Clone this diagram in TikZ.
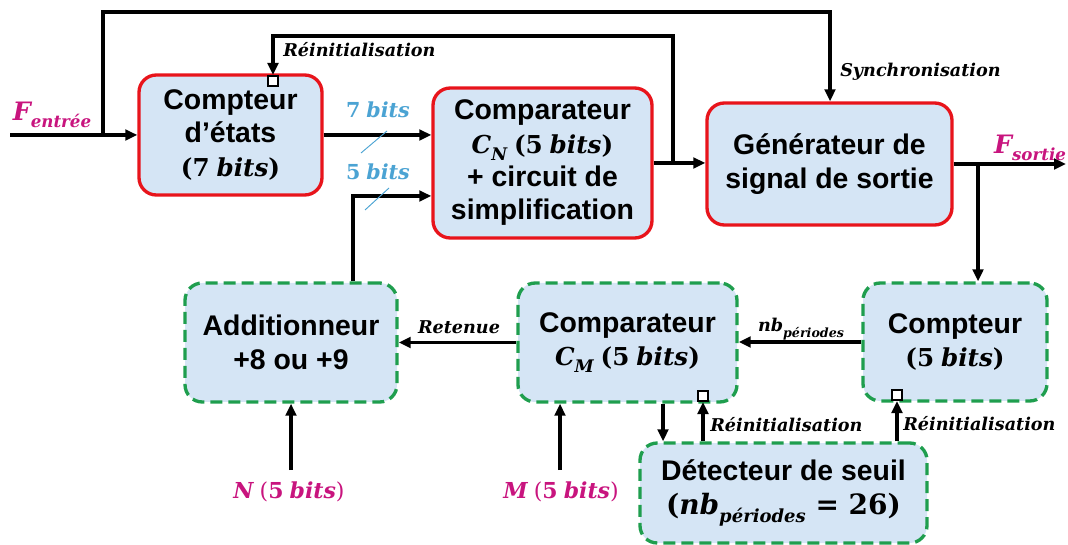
\documentclass[tikz,border=0pt]{standalone}
\usepackage{fontspec}
\setmainfont{Liberation Sans}
\newfontfamily\mth{DejaVu Serif}
\usetikzlibrary{arrows.meta}
\definecolor{boxfill}{HTML}{D5E5F5}
\definecolor{rbord}{HTML}{E8141B}
\definecolor{gbord}{HTML}{1F9E4E}
\definecolor{bitblue}{HTML}{4BA3D3}
\definecolor{pinkc}{HTML}{C8147E}
\newcommand\MB[1]{{\mth\bfseries\itshape #1}}
\newcommand\MN[1]{{\mth\bfseries #1}}
\newcommand\MP[1]{{\mth #1}}
\newcommand\SB[2]{\raisebox{-0.3em}{\fontsize{#1}{#1}\selectfont\mth\bfseries\itshape #2}}
\newcommand\mfs{\fontsize{18.5}{25}\selectfont}
\begin{document}
\begin{tikzpicture}[x=0.75pt,y=-0.75pt,
  box/.style={rounded corners=13pt, fill=boxfill, line width=2.5pt, align=center,
    font=\bfseries\fontsize{21.3}{25}\selectfont, inner sep=0pt},
  redbox/.style={box, draw=rbord},
  grnbox/.style={box, draw=gbord, dash pattern=on 9pt off 4.5pt},
  wire/.style={line width=2.3pt},
  arr/.style={wire, -{Triangle[length=9pt,width=8pt]}},
  rst/.style={draw, line width=1.6pt, fill=white, minimum size=7.5pt, inner sep=0pt},
  lbl/.style={inner sep=0pt, font=\fontsize{13.2}{15}\selectfont},
  bitl/.style={inner sep=0pt, text=bitblue, font=\fontsize{15.5}{17}\selectfont},
  pinkl/.style={inner sep=0pt, text=pinkc},
  slash/.style={draw=bitblue, line width=0.7pt}
]
\useasboundingbox (0,0) rectangle (1068,545);

% boxes
\node[redbox, minimum width=137.25pt, minimum height=90pt] (b1) at (230.5,135)
  {Compteur\\d’états\\{\mfs\MP{(}\MN{7}~\MB{bits}\MP{)}}};
\node[redbox, minimum width=164.25pt, minimum height=112.5pt] (b2) at (542.5,163)
  {Comparateur\\{\mfs\MB{C}\SB{13}{N}~\MP{(}\MN{5}~\MB{bits}\MP{)}}\\+ circuit de\\simplification};
\node[redbox, minimum width=183.75pt, minimum height=91.5pt] (b3) at (829.5,164)
  {Générateur de\\signal de sortie};
\node[grnbox, minimum width=159pt, minimum height=89.25pt] (add) at (291,342.5)
  {Additionneur\\+8 ou +9};
\node[grnbox, minimum width=164.25pt, minimum height=89.25pt] (cm) at (627.5,342.5)
  {Comparateur\\{\mfs\MB{C}\SB{13}{M}~\MP{(}\MN{5}~\MB{bits}\MP{)}}};
\node[grnbox, minimum width=138pt, minimum height=88.5pt] (cpt) at (955,342)
  {Compteur\\{\mfs\MP{(}\MN{5}~\MB{bits}\MP{)}}};
\node[grnbox, minimum width=215.25pt, minimum height=75pt] (det) at (783.5,493)
  {Détecteur de seuil\\{\fontsize{21}{26}\selectfont\MP{(}\MB{nb}\SB{13.5}{périodes}\MP{~=~}\MN{26}\MP{)}}};

% reset squares
\node[rst, anchor=north] (r1) at (273,75) {};
\node[rst, anchor=south] (r2) at (703,402) {};
\node[rst, anchor=south] (r3) at (897,401) {};

% labels
\node[pinkl, font=\fontsize{19}{21}\selectfont] (fin) at (52,115) {\MB{F}\SB{12.5}{entrée}};
\node[pinkl, font=\fontsize{19}{21}\selectfont] (fout) at (1030,148) {\MB{F}\SB{12.5}{sortie}};
\node[lbl, anchor=west] (lr1) at (283,50) {\MB{Réinitialisation}};
\node[lbl, anchor=west] (lsy) at (840,72) {\MB{Synchronisation}};
\node[lbl, anchor=west] (lr2) at (710,425) {\MB{Réinitialisation}};
\node[lbl, anchor=west] (lr3) at (903,424) {\MB{Réinitialisation}};
\node[lbl] (lret) at (459,327) {\MB{Retenue}};
\node[lbl] (lnb) at (801,329) {\MB{nb}\SB{9.5}{périodes}};
\node[bitl] (l7) at (378,110) {\MN{7}~\MB{bits}};
\node[bitl] (l5) at (378,172) {\MN{5}~\MB{bits}};
\node[pinkl, font=\fontsize{16.5}{18}\selectfont] (nl) at (289,492) {\MB{N}~\MP{(}\MN{5}~\MB{bits}\MP{)}};
\node[pinkl, font=\fontsize{16.5}{18}\selectfont] (ml) at (561,492) {\MB{M}~\MP{(}\MN{5}~\MB{bits}\MP{)}};

% coordinates
\coordinate (in) at (10,135);
\coordinate (j1) at (103,135);
\coordinate (t2) at (830,12);
\coordinate (xj2) at (673,0);
\coordinate (t3) at (273,36);
\coordinate (c5) at (353,196);
\coordinate (out) at (1066,164);
\coordinate (xj3) at (978,0);
\coordinate (nS) at (291,470);
\coordinate (mS) at (560,470);
\coordinate (xd) at (663,0);

% connectors
\draw[arr] (in) -- (b1.west);
\draw[arr] (j1) |- (t2) -- (t2 |- b3.north);
\draw[arr] (b1.east) -- (b1.east -| b2.west);
\draw[arr] (add.north -| c5) |- (b2.west |- c5);
\draw[arr] (b2.east) -- (b2.east -| b3.west);
\draw[arr] (b2.east -| xj2) |- (t3) -- (r1.north);
\draw[arr] (b3.east) -- (b3.east -| out);
\draw[arr] (b3.east -| xj3) -- (xj3 |- cpt.north);
\draw[arr] (cpt.west) -- (cpt.west -| cm.east);
\draw[arr] (cm.west) -- (cm.west -| add.east);
\draw[arr] (nS) -- (nS |- add.south);
\draw[arr] (mS) -- (mS |- cm.south);
\draw[arr] (cm.south -| xd) -- (det.north -| xd);
\draw[arr] (det.north -| r2) -- (r2.south);
\draw[arr] (det.north -| r3) -- (r3.south);

% bus slashes
\draw[slash] (361,153) -- (387,131);
\draw[slash] (365,210) -- (389,188);
\end{tikzpicture}
\end{document}
